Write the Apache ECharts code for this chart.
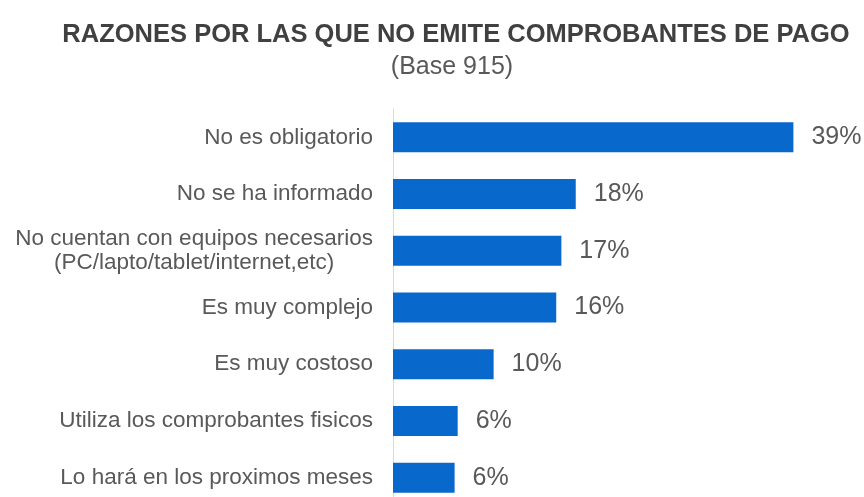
<!DOCTYPE html>
<html>
<head>
<meta charset="utf-8">
<script src="https://cdn.jsdelivr.net/npm/echarts@6/dist/echarts.min.js"></script>
<style>
  html, body { margin: 0; padding: 0; background: #fff; }
  #chart { width: 864px; height: 497px; }
</style>
</head>
<body>
<div id="chart"></div>
<script>
// Datos
const categorias = [
    'No es obligatorio',
    'No se ha informado',
    'No cuentan con equipos necesarios\n(PC/lapto/tablet/internet,etc)',
    'Es muy complejo',
    'Es muy costoso',
    'Utiliza los comprobantes fisicos',
    'Lo hará en los proximos meses'
];
const porcentajes = [39, 17.8, 16.4, 15.9, 9.8, 6.3, 6.0];
const etiquetas = ['39%', '18%', '17%', '16%', '10%', '6%', '6%'];

let chart = echarts.init(document.getElementById('chart'));

let option = {
    backgroundColor: '#fff',
    title: [
        {
            text: 'RAZONES POR LAS QUE NO EMITE COMPROBANTES DE PAGO',
            left: 451,
            top: 17,
            textAlign: 'center',
            textStyle: {
                fontFamily: 'Liberation Sans',
                fontSize: 25.5,
                fontWeight: 'bold',
                color: '#404040'
            }
        },
        {
            text: '(Base 915)',
            left: 447,
            top: 50,
            textAlign: 'center',
            textStyle: {
                fontFamily: 'Liberation Sans',
                fontSize: 25,
                fontWeight: 'normal',
                color: '#595959'
            }
        }
    ],
    grid: {
        left: 393,
        top: 109,
        width: 462,
        height: 397,
        containLabel: false,
        outerBoundsMode: 'none'
    },
    xAxis: {
        type: 'value',
        min: 0,
        max: 45,
        show: false,
        splitLine: { show: false }
    },
    yAxis: {
        type: 'category',
        inverse: true,
        data: categorias,
        axisLine: { show: true, lineStyle: { color: '#d9d9d9', width: 1 } },
        axisTick: { show: false },
        axisLabel: {
            margin: 20,
            formatter: v => v.split('\n').map(s => '{c|' + s + '}').join('\n'),
            rich: {
                c: {
                    align: 'center',
                    fontFamily: 'Liberation Sans',
                    fontSize: 22.5,
                    lineHeight: 24,
                    color: '#595959'
                }
            }
        }
    },
    series: [{
        type: 'bar',
        data: porcentajes,
        barWidth: 30,
        itemStyle: { color: '#0868cc' },
        label: {
            show: true,
            position: 'right',
            distance: 18,
            formatter: p => etiquetas[p.dataIndex],
            fontFamily: 'Liberation Sans',
            fontSize: 25,
            color: '#595959'
        },
        animation: false
    }],
    animation: false
};

chart.setOption(option);
</script>
</body>
</html>
